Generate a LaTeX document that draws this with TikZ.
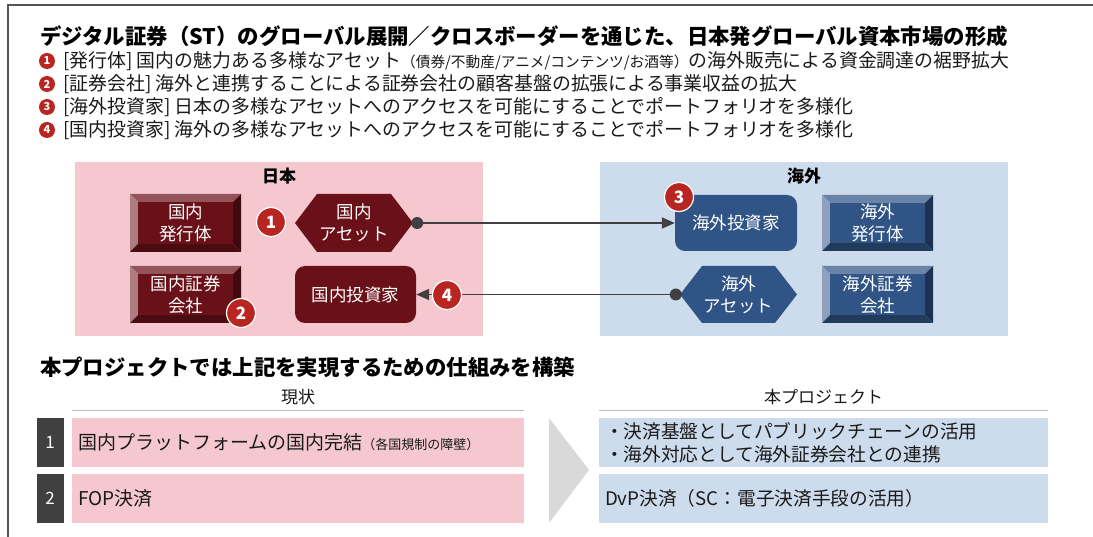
\documentclass[tikz,border=0pt]{standalone}
\usepackage{fontspec}
\setmainfont{Noto Sans CJK JP}
\usetikzlibrary{arrows.meta}

\definecolor{jpbg}{RGB}{245,200,208}
\definecolor{osbg}{RGB}{205,220,237}
\definecolor{jpdark}{RGB}{106,16,24}
\definecolor{osdark}{RGB}{47,84,133}
\definecolor{badgered}{RGB}{185,38,34}
\definecolor{conncol}{RGB}{64,64,64}
\definecolor{numcol}{RGB}{64,64,64}
\definecolor{chevcol}{RGB}{217,217,217}
\definecolor{rulecol}{RGB}{190,190,190}
\definecolor{framecol}{RGB}{85,85,85}
\definecolor{txt}{RGB}{26,26,26}

\tikzset{
  boxtext/.style={text=white, font=\fontsize{17.5}{22}\selectfont, align=center, inner sep=0pt},
  badge/.style={circle, fill=badgered, draw=white, line width=1.2pt, text=white,
    font=\bfseries\fontsize{17}{17}\selectfont, minimum size=29pt, inner sep=0pt},
  bulletnum/.style={circle, fill=badgered, text=white, font=\bfseries\fontsize{11}{11}\selectfont,
    minimum size=16pt, inner sep=0pt},
  itemtext/.style={anchor=west, inner sep=0pt, font=\fontsize{18.9}{18.9}\selectfont, text=txt},
  connline/.style={draw=conncol, line width=1.6pt},
  tipped/.style={-{Triangle[length=13pt,width=11pt]}},
  regionlabel/.style={font=\bfseries\fontsize{17}{17}\selectfont, text=black, inner sep=0pt},
  colhead/.style={font=\fontsize{17}{17}\selectfont, text=txt, inner sep=0pt},
  numbox/.style={fill=numcol, text=white, font=\fontsize{17}{17}\selectfont,
    minimum width=27pt, minimum height=49pt, inner sep=0pt},
  rowbox/.style={minimum height=49pt, inner xsep=6pt, inner ysep=0pt, align=left,
    font=\fontsize{18.7}{23}\selectfont, text=txt},
  rulestyle/.style={draw=rulecol, line width=1pt},
}

% beveled box: name, cx, cy, width, height, color, text
\newcommand\bevbox[7]{%
  \pgfmathsetmacro\bxL{#2-#4/2}\pgfmathsetmacro\bxR{#2+#4/2}%
  \pgfmathsetmacro\bxT{#3-#5/2}\pgfmathsetmacro\bxB{#3+#5/2}%
  \fill[#6!72!white] (\bxL,\bxT) -- (\bxR,\bxT) -- (\bxR-8,\bxT+8) -- (\bxL+8,\bxT+8) -- cycle;
  \fill[#6!55!white] (\bxL,\bxT) -- (\bxL+8,\bxT+8) -- (\bxL+8,\bxB-8) -- (\bxL,\bxB) -- cycle;
  \fill[#6!70!black] (\bxL,\bxB) -- (\bxR,\bxB) -- (\bxR-8,\bxB-8) -- (\bxL+8,\bxB-8) -- cycle;
  \fill[#6!60!black] (\bxR,\bxT) -- (\bxR,\bxB) -- (\bxR-8,\bxB-8) -- (\bxR-8,\bxT+8) -- cycle;
  \fill[#6] (\bxL+8,\bxT+8) rectangle (\bxR-8,\bxB-8);
  \node[boxtext, minimum width=#4, minimum height=#5] (#1) at (#2,#3) {#7};
}
% hexagon box: name, cx, cy, width, height, color, text
\newcommand\hexbox[7]{%
  \pgfmathsetmacro\bxL{#2-#4/2}\pgfmathsetmacro\bxR{#2+#4/2}%
  \pgfmathsetmacro\bxT{#3-#5/2}\pgfmathsetmacro\bxB{#3+#5/2}%
  \fill[#6] (\bxL,#3) -- (\bxL+22,\bxT) -- (\bxR-22,\bxT) -- (\bxR,#3) -- (\bxR-22,\bxB) -- (\bxL+22,\bxB) -- cycle;
  \node[boxtext, minimum width=#4, minimum height=#5] (#1) at (#2,#3) {#7};
}

\begin{document}
\begin{tikzpicture}[x=1pt,y=-1pt]
\useasboundingbox (0,0) rectangle (1093,537);
\fill[white] (0,0) rectangle (1093,537);

% frame
\draw[framecol, line width=2pt] (8,537) -- (8,5) -- (1093,5);

% title
\node[anchor=west, inner sep=0pt, font=\bfseries\fontsize{21.4}{21.4}\selectfont, text=black] (title) at (40,36)
  {デジタル証券（ST）のグローバル展開／クロスボーダーを通じた、日本発グローバル資本市場の形成};

% items
\node[bulletnum] (b1) at (47,61) {1};
\node[itemtext] (i1) at (63,61) {[発行体] 国内の魅力ある多様なアセット{\fontsize{14.7}{14.7}\selectfont （債券/不動産/アニメ/コンテンツ/お酒等）}の海外販売による資金調達の裾野拡大};
\node[bulletnum] (b2) at (47,84) {2};
\node[itemtext] (i2) at (63,84) {[証券会社] 海外と連携することによる証券会社の顧客基盤の拡張による事業収益の拡大};
\node[bulletnum] (b3) at (47,107) {3};
\node[itemtext] (i3) at (63,107) {[海外投資家] 日本の多様なアセットへのアクセスを可能にすることでポートフォリオを多様化};
\node[bulletnum] (b4) at (47,130) {4};
\node[itemtext] (i4) at (63,130) {[国内投資家] 海外の多様なアセットへのアクセスを可能にすることでポートフォリオを多様化};

% regions
\fill[jpbg] (75,162) rectangle (483,336);
\fill[osbg] (600,162) rectangle (1008,336);
\node[regionlabel] (jp) at (279,176) {日本};
\node[regionlabel] (os) at (804,176) {海外};

% japan nodes
\bevbox{jiss}{185.5}{223}{111}{58}{jpdark}{国内\\発行体}
\bevbox{jsec}{185.5}{294.5}{111}{57}{jpdark}{国内証券\\会社}
\hexbox{jasset}{354}{223}{118}{58}{jpdark}{国内\\アセット}
\node[boxtext, fill=jpdark, rounded corners=10pt, minimum width=121pt, minimum height=57pt] (jinv) at (355.5,294.5) {国内投資家};

% overseas nodes
\node[boxtext, fill=osdark, rounded corners=10pt, minimum width=122pt, minimum height=56pt] (oinv) at (736,223) {海外投資家};
\bevbox{oiss}{877.5}{223}{111}{56}{osdark}{海外\\発行体}
\hexbox{oasset}{738.5}{294.5}{117}{57}{osdark}{海外\\アセット}
\bevbox{osec}{877.5}{294.5}{111}{57}{osdark}{海外証券\\会社}

% connectors
\coordinate (d1) at ([xshift=4pt]jasset.east);
\draw[connline, tipped] (d1) -- (oinv.west);
\fill[conncol] (d1) circle (6);
\coordinate (d2) at ([xshift=-4pt]oasset.west);
\draw[connline, tipped] (d2) -- (jinv.east);
\fill[conncol] (d2) circle (6);

% badges
\node[badge] (k1) at (271,222) {1};
\node[badge] (k2) at (241,313) {2};
\node[badge] (k3) at (679,197) {3};
\node[badge] (k4) at (447,295) {4};

% section 2
\node[anchor=west, inner sep=0pt, font=\bfseries\fontsize{21.4}{21.4}\selectfont, text=black] (sec2) at (40,367)
  {本プロジェクトでは上記を実現するための仕組みを構築};
\node[colhead] (cur) at (298,397) {現状};
\draw[rulestyle] (72,411) -- (524,411);
\node[colhead] (proj) at (823.5,397) {本プロジェクト};
\draw[rulestyle] (599,411) -- (1048,411);

\node[numbox] (n1) at (50,442.5) {1};
\node[numbox] (n2) at (50,498.5) {2};
\node[rowbox, fill=jpbg, text width=440pt, font=\fontsize{19}{23}\selectfont] (c1) at (298,442.5)
  {国内プラットフォームの国内完結{\fontsize{13}{13}\selectfont （各国規制の障壁）}};
\node[rowbox, fill=jpbg, text width=440pt, font=\fontsize{19}{23}\selectfont] (c2) at (298,498.5) {FOP決済};

\fill[chevcol] (549,418) -- (589,470) -- (549,523) -- cycle;

\node[rowbox, fill=osbg, text width=437pt, inner xsep=6pt] (p1) at (823.5,442.5)
  {・決済基盤としてパブリックチェーンの活用\\・海外対応として海外証券会社との連携};
\node[rowbox, fill=osbg, text width=437pt, inner xsep=6pt] (p2) at (823.5,498.5)
  {DvP決済（SC：電子決済手段の活用）};
\end{tikzpicture}
\end{document}
